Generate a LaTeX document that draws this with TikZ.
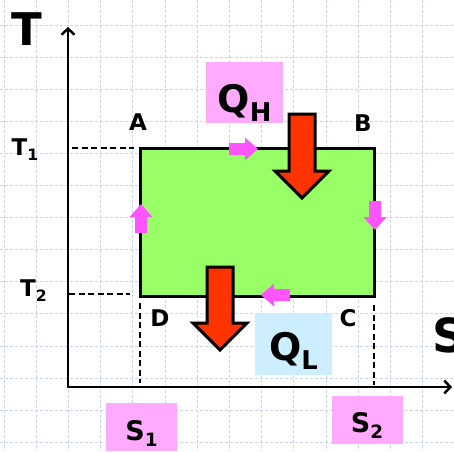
\documentclass[tikz,border=0pt]{standalone}
\usepackage{fontspec}
\setmainfont{DejaVu Sans}
\usetikzlibrary{arrows.meta, calc}
\definecolor{cyGrid}{HTML}{C8D4F6}
\definecolor{cyGreen}{HTML}{99FF66}
\definecolor{cyHeat}{HTML}{FF3300}
\definecolor{cyFlow}{HTML}{FF55FF}
\definecolor{cyPink}{HTML}{FFAAFF}
\definecolor{cyBlue}{HTML}{CCEEFF}
\newcommand{\lowsub}[1]{\raisebox{-0.45ex}{\scalebox{0.68}{#1}}}

\begin{document}
\begin{tikzpicture}[x=1pt, y=-1pt,
    gridline/.style={cyGrid, line width=0.9pt, dash pattern=on 3pt off 2pt},
    guide/.style={line width=2pt, dash pattern=on 6pt off 3.5pt},
    heat/.style={fill=cyHeat, draw=black, line width=3pt, line join=miter},
    qbox/.style={inner sep=0pt, minimum width=77pt, minimum height=61pt, font=\fontsize{38}{38}\selectfont\bfseries},
    sbox/.style={fill=cyPink, inner sep=0pt, minimum width=71pt, minimum height=48pt, font=\fontsize{27}{27}\selectfont\bfseries},
    corner/.style={inner sep=0pt, font=\fontsize{23}{23}\selectfont\bfseries},
    level/.style={inner sep=0pt, anchor=base west, font=\fontsize{23}{23}\selectfont\bfseries}]
  \useasboundingbox (0,0) rectangle (454,451);
  \fill[white] (0,0) rectangle (454,451);
  \foreach \i in {0,...,14}
    \draw[gridline] (4+32.2*\i, 0) -- ++(0,451);
  \foreach \j in {-1,...,13}
    \draw[gridline] (0, 25+32.1*\j) -- ++(454,0);

  \coordinate (O) at (68,387);
  \coordinate (Ttip) at (68,27);
  \coordinate (Stip) at (452,387);
  \coordinate (A) at (140,148);
  \coordinate (B) at (374,148);
  \coordinate (C) at (374,296);
  \coordinate (D) at (140,296);

  \draw[line width=2.5pt, line join=miter,
        {Straight Barb[length=6pt, width=13pt]}-{Straight Barb[length=6pt, width=13pt]}]
    (Ttip) -- (O) -- (Stip);
  \draw[guide, shorten <=4pt, shorten >=6pt] (O |- A) -- (A);
  \draw[guide, shorten <=1pt, shorten >=10pt] ($(O |- D)+(0,-2)$) -- ($(D)+(0,-2)$);
  \draw[guide, shorten <=7pt, shorten >=4pt] (D) -- (D |- O);
  \draw[guide, shorten <=9pt, shorten >=2pt] (C) -- (C |- O);

  \draw[fill=cyGreen, line width=3pt, line join=miter] (A) -- (B) -- (C) -- (D) -- cycle;

  \foreach \px/\py/\ang in {229/149/0, 375/201/270, 290/295/180, 141/233/90}
    \fill[cyFlow, shift={(\px,\py)}, rotate=\ang]
      (0,-6) -- (16,-6) -- (16,-11.5) -- (29,0) -- (16,11.5) -- (16,6) -- (0,6) -- cycle;

  \foreach \tx/\ty/\tp in {302/198/114, 220/350/267}
    \draw[heat] (\tx-13,\tp) -- (\tx+13,\tp) -- (\tx+13,\ty-27) -- (\tx+27,\ty-27)
      -- (\tx,\ty) -- (\tx-27,\ty-27) -- (\tx-13,\ty-27) -- cycle;

  \node[inner sep=0pt, font=\fontsize{45}{45}\selectfont\bfseries] (Tlab) at (27,29) {T};
  \node[inner sep=0pt, font=\fontsize{47}{47}\selectfont\bfseries] (Slab) at (449,335) {S};
  \node[level] (T1) at (11.5,155) {T\lowsub{1}};
  \node[level] (T2) at (20,296) {T\lowsub{2}};
  \node[corner] (Alab) at (138,122) {A};
  \node[corner] (Blab) at (363,123) {B};
  \node[corner] (Clab) at (348,318) {C};
  \node[corner] (Dlab) at (160,318) {D};
  \node[qbox, fill=cyPink, text height=39pt, text depth=0pt] (QH) at (244.5,92.5) {Q\lowsub{H}};
  \node[qbox, fill=cyBlue, text height=32pt, text depth=0pt, minimum height=62pt] (QL) at (293.5,344) {Q\lowsub{L}};
  \node[sbox, text height=26pt, text depth=0pt] (S1) at (141.5,427) {S\lowsub{1}};
  \node[sbox, text height=24pt, text depth=0pt] (S2) at (367,420) {S\lowsub{2}};
\end{tikzpicture}
\end{document}
